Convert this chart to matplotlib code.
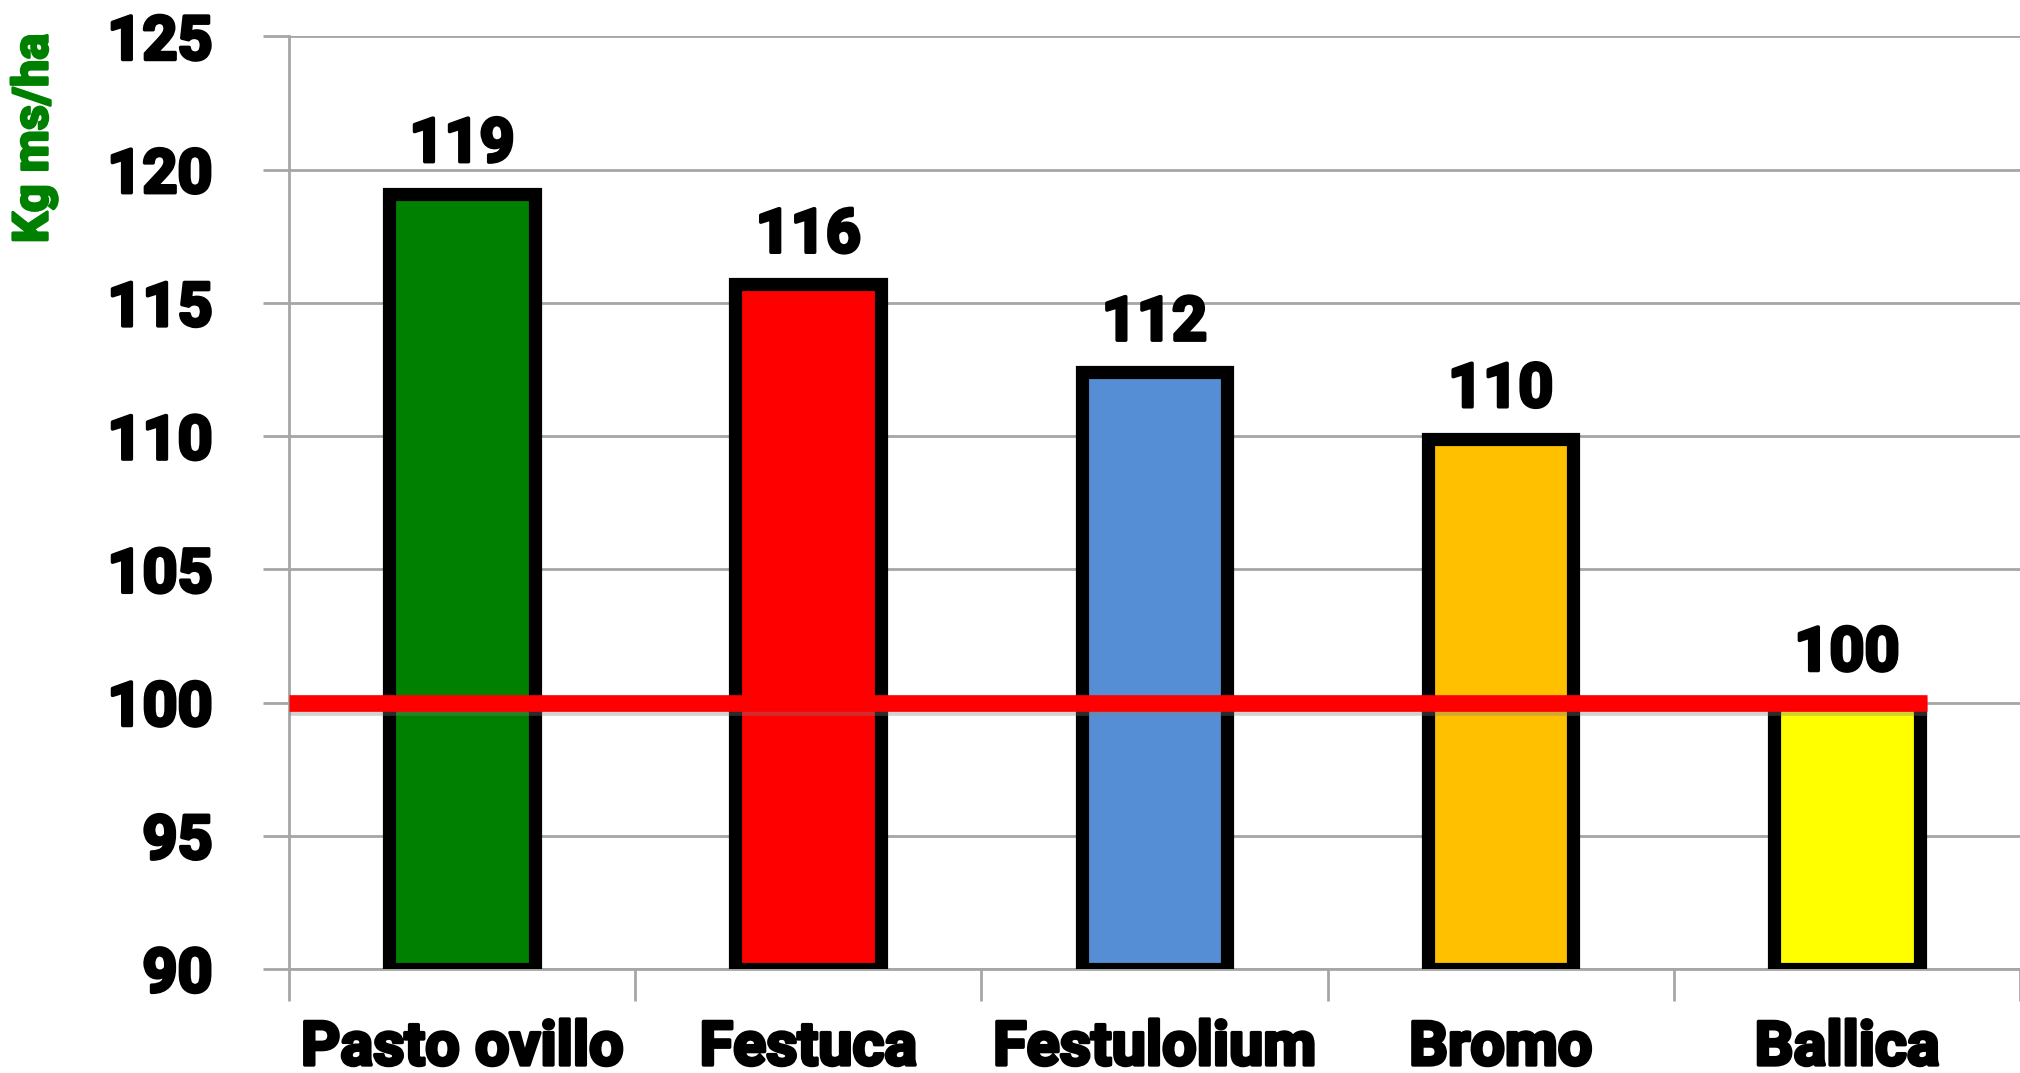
import numpy as np
import matplotlib
matplotlib.use("Agg")
import matplotlib.pyplot as plt
import matplotlib.patheffects as pe

categories = ["Pasto ovillo", "Festuca", "Festulolium", "Bromo", "Ballica"]
values = [119.1, 115.7, 112.4, 109.9, 100.0]
labels = ["119", "116", "112", "110", "100"]
colors = ["#008000", "#ff0000", "#558ed5", "#ffc000", "#ffff00"]
yticks = [90, 95, 100, 105, 110, 115, 120, 125]
reference = 100

plt.rcParams['font.family'] = ['Roboto', 'DejaVu Sans']

# fake a heavier weight by stroking the glyphs
heavy = [pe.withStroke(linewidth=2.5, foreground="black")]
heavy_green = [pe.withStroke(linewidth=2.0, foreground="#008000")]

fig = plt.figure(figsize=(20.2, 10.73), dpi=100)
ax = fig.add_axes([0.143, 0.097, 0.857, 0.869])

x = np.arange(len(categories))
width = 0.42
base = yticks[0]
ax.bar(x, np.array(values) - base, bottom=base, width=width, color=colors,
       edgecolor="black", linewidth=9.5, zorder=3)

for xi, v, t in zip(x, values, labels):
    ax.text(xi, v + 0.75, t, ha="center", va="bottom", fontsize=44,
            fontweight="bold", color="black", path_effects=heavy)

ax.plot([-0.5, x[-1] + width / 2 + 0.02], [reference, reference],
        color="#ff0000", linewidth=12, solid_capstyle="butt", zorder=4,
        path_effects=[pe.SimpleLineShadow(offset=(0, -3), shadow_color="gray",
                                          alpha=0.35), pe.Normal()])

ax.set_ylim(yticks[0], yticks[-1])
ax.set_xlim(-0.5, 4.48)
ax.set_yticks(yticks)
ax.set_yticklabels([str(t) for t in yticks], fontsize=44, fontweight="bold")
ax.yaxis.grid(True, color="#a6a6a6", linewidth=2, zorder=0)
ax.tick_params(axis="y", length=19, width=2, color="#a6a6a6", pad=36)

ax.set_xticks(np.arange(-0.5, len(categories), 1.0))
ax.set_xticklabels([])
ax.set_xticks(x, minor=True)
ax.set_xticklabels(categories, minor=True, fontsize=44, fontweight="bold")
ax.tick_params(axis="x", which="major", length=23, width=2, color="#a6a6a6")
ax.tick_params(axis="x", which="minor", length=0, pad=36)

for lab in ax.get_yticklabels() + ax.get_xticklabels(minor=True):
    lab.set_path_effects(heavy)

for side in ["top", "right"]:
    ax.spines[side].set_visible(False)
ax.spines["left"].set_color("#a6a6a6")
ax.spines["left"].set_linewidth(2)
ax.spines["bottom"].set_color("#a6a6a6")
ax.spines["bottom"].set_linewidth(2)

fig.text(0.017, 0.871, "Kg ms/ha", rotation=90, ha="center", va="center",
         fontsize=35, fontweight="bold", color="#008000",
         path_effects=heavy_green)

fig.savefig("out.png", dpi=100)
